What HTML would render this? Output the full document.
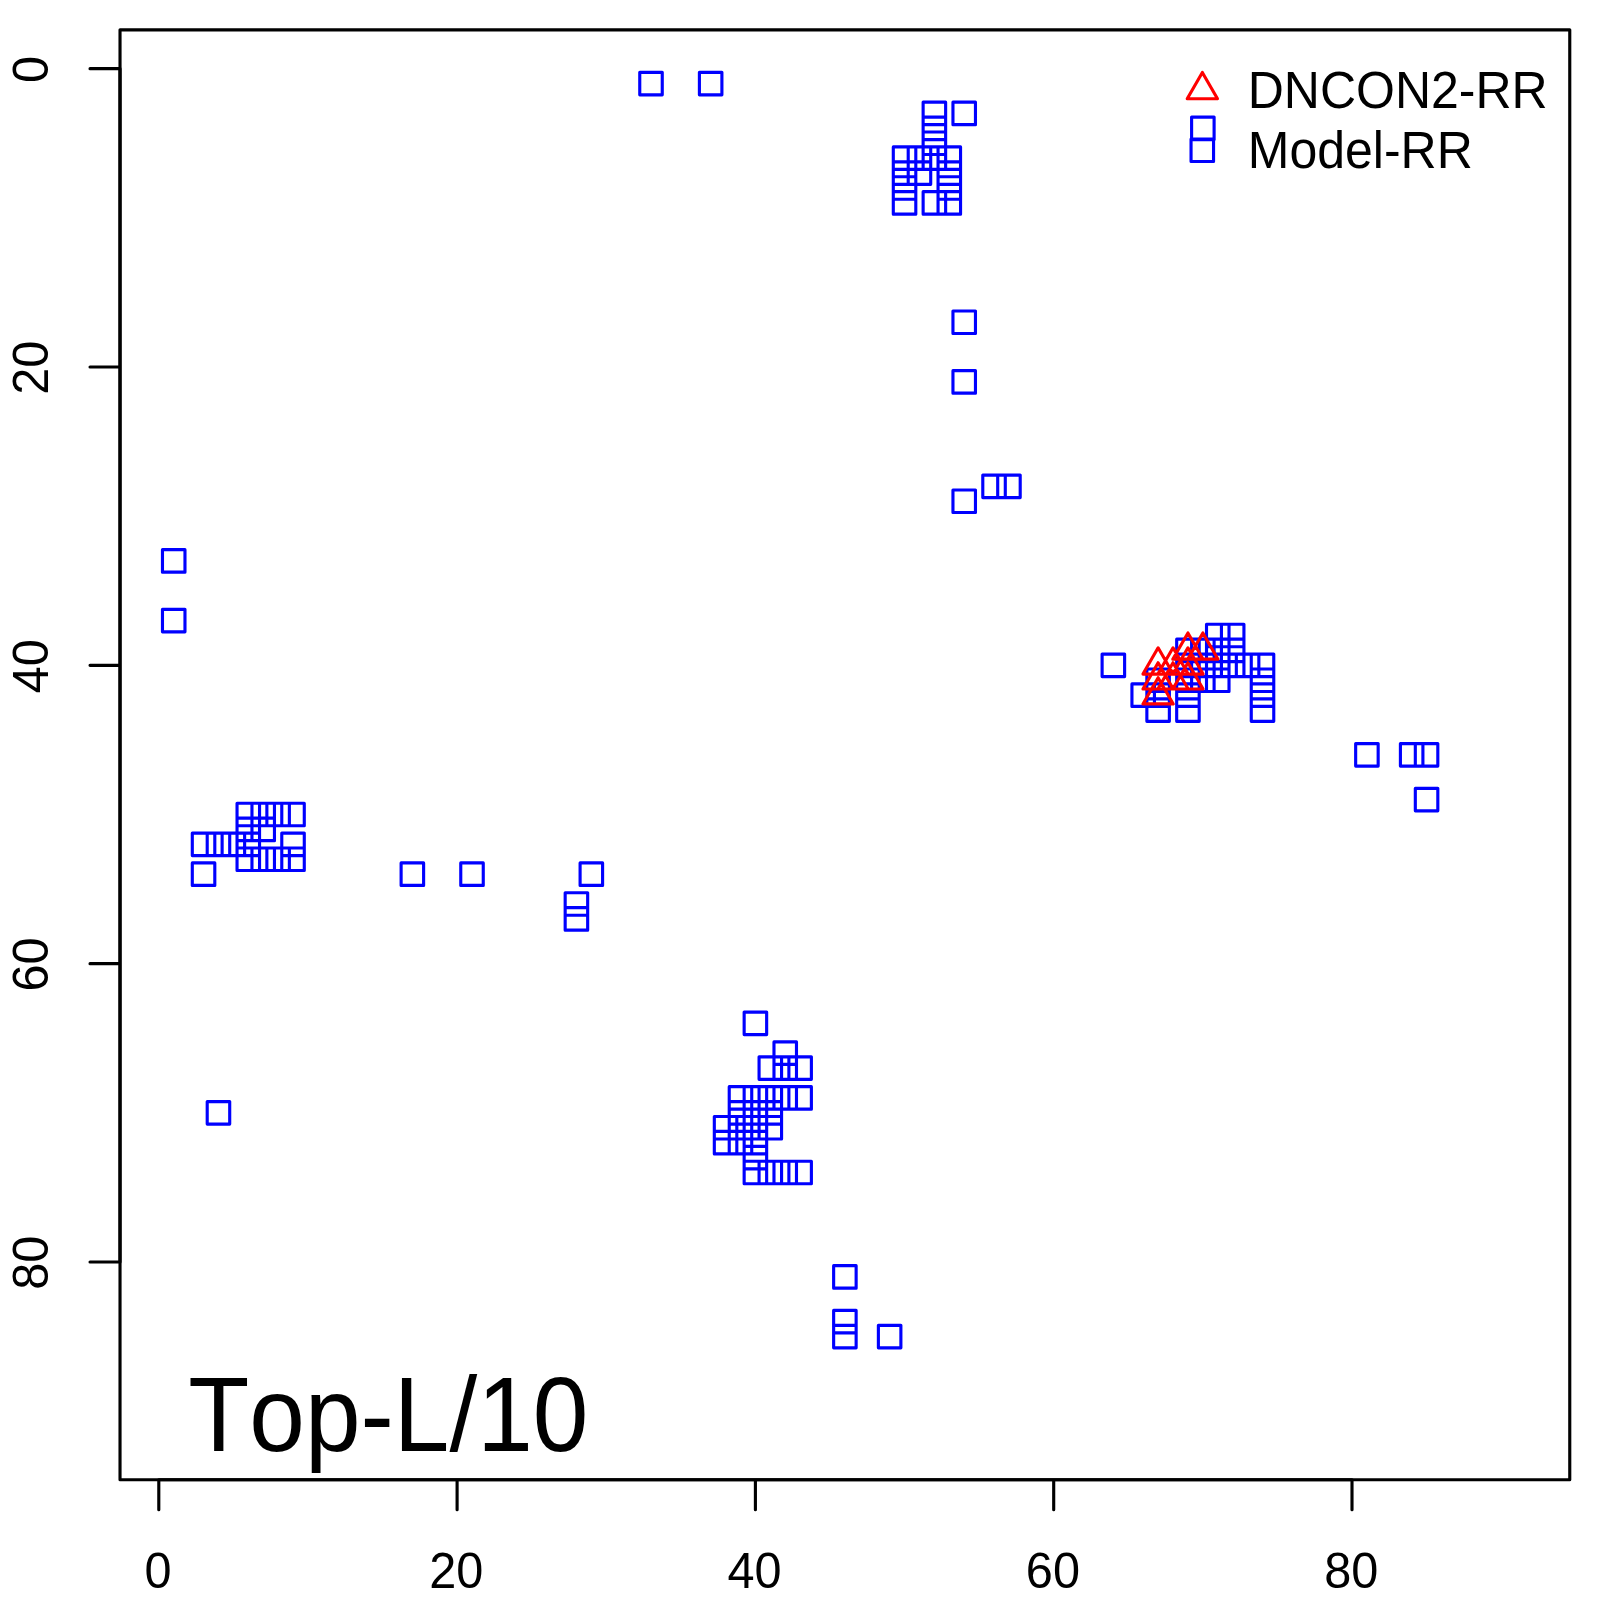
<!DOCTYPE html>
<html><head><meta charset="utf-8"><title>Top-L/10</title>
<style>
html,body{margin:0;padding:0;background:#fff;width:1600px;height:1600px;overflow:hidden}
svg{display:block}
text{font-family:'Liberation Sans',Arial,Helvetica,sans-serif;fill:#000;font-kerning:none;font-feature-settings:"kern" 0,"liga" 0}
</style></head><body>
<svg width="1600" height="1600" viewBox="0 0 1600 1600">
<rect x="0" y="0" width="1600" height="1600" fill="#fff"/>
<path d="M162.47,549.66h22.5v22.5h-22.5zM162.47,609.33h22.5v22.5h-22.5zM192.30,833.08h22.5v22.5h-22.5zM207.21,833.08h22.5v22.5h-22.5zM222.12,833.08h22.5v22.5h-22.5zM237.04,833.08h22.5v22.5h-22.5zM281.78,833.08h22.5v22.5h-22.5zM237.04,803.25h22.5v22.5h-22.5zM251.96,803.25h22.5v22.5h-22.5zM266.87,803.25h22.5v22.5h-22.5zM281.78,803.25h22.5v22.5h-22.5zM237.04,818.17h22.5v22.5h-22.5zM251.96,818.17h22.5v22.5h-22.5zM237.04,848.00h22.5v22.5h-22.5zM251.96,848.00h22.5v22.5h-22.5zM266.87,848.00h22.5v22.5h-22.5zM281.78,848.00h22.5v22.5h-22.5zM192.30,862.92h22.5v22.5h-22.5zM207.21,1101.59h22.5v22.5h-22.5zM401.11,862.92h22.5v22.5h-22.5zM460.76,862.92h22.5v22.5h-22.5zM580.09,862.92h22.5v22.5h-22.5zM565.17,892.75h22.5v22.5h-22.5zM565.17,907.67h22.5v22.5h-22.5zM744.15,1012.09h22.5v22.5h-22.5zM773.98,1041.92h22.5v22.5h-22.5zM759.07,1056.84h22.5v22.5h-22.5zM773.98,1056.84h22.5v22.5h-22.5zM788.89,1056.84h22.5v22.5h-22.5zM729.23,1086.67h22.5v22.5h-22.5zM744.15,1086.67h22.5v22.5h-22.5zM759.07,1086.67h22.5v22.5h-22.5zM773.98,1086.67h22.5v22.5h-22.5zM788.89,1086.67h22.5v22.5h-22.5zM729.23,1101.59h22.5v22.5h-22.5zM744.15,1101.59h22.5v22.5h-22.5zM759.07,1101.59h22.5v22.5h-22.5zM714.32,1116.51h22.5v22.5h-22.5zM729.23,1116.51h22.5v22.5h-22.5zM744.15,1116.51h22.5v22.5h-22.5zM759.07,1116.51h22.5v22.5h-22.5zM714.32,1131.42h22.5v22.5h-22.5zM729.23,1131.42h22.5v22.5h-22.5zM744.15,1131.42h22.5v22.5h-22.5zM744.15,1146.34h22.5v22.5h-22.5zM744.15,1161.26h22.5v22.5h-22.5zM759.07,1161.26h22.5v22.5h-22.5zM773.98,1161.26h22.5v22.5h-22.5zM788.89,1161.26h22.5v22.5h-22.5zM833.64,1265.68h22.5v22.5h-22.5zM833.64,1310.43h22.5v22.5h-22.5zM833.64,1325.35h22.5v22.5h-22.5zM878.38,1325.35h22.5v22.5h-22.5zM639.75,72.32h22.5v22.5h-22.5zM699.40,72.32h22.5v22.5h-22.5zM923.13,102.15h22.5v22.5h-22.5zM923.13,117.07h22.5v22.5h-22.5zM923.13,131.99h22.5v22.5h-22.5zM923.13,146.90h22.5v22.5h-22.5zM923.13,191.65h22.5v22.5h-22.5zM893.30,146.90h22.5v22.5h-22.5zM893.30,161.82h22.5v22.5h-22.5zM893.30,176.74h22.5v22.5h-22.5zM893.30,191.65h22.5v22.5h-22.5zM908.21,146.90h22.5v22.5h-22.5zM908.21,161.82h22.5v22.5h-22.5zM938.05,146.90h22.5v22.5h-22.5zM938.05,161.82h22.5v22.5h-22.5zM938.05,176.74h22.5v22.5h-22.5zM938.05,191.65h22.5v22.5h-22.5zM952.96,102.15h22.5v22.5h-22.5zM1191.60,117.07h22.5v22.5h-22.5zM952.96,310.99h22.5v22.5h-22.5zM952.96,370.66h22.5v22.5h-22.5zM952.96,489.99h22.5v22.5h-22.5zM982.79,475.08h22.5v22.5h-22.5zM997.70,475.08h22.5v22.5h-22.5zM1102.11,654.08h22.5v22.5h-22.5zM1131.94,683.91h22.5v22.5h-22.5zM1146.86,669.00h22.5v22.5h-22.5zM1146.86,683.91h22.5v22.5h-22.5zM1146.86,698.83h22.5v22.5h-22.5zM1176.68,639.16h22.5v22.5h-22.5zM1176.68,654.08h22.5v22.5h-22.5zM1176.68,669.00h22.5v22.5h-22.5zM1176.68,683.91h22.5v22.5h-22.5zM1176.68,698.83h22.5v22.5h-22.5zM1191.60,639.16h22.5v22.5h-22.5zM1191.60,654.08h22.5v22.5h-22.5zM1191.60,669.00h22.5v22.5h-22.5zM1206.51,624.25h22.5v22.5h-22.5zM1206.51,639.16h22.5v22.5h-22.5zM1206.51,654.08h22.5v22.5h-22.5zM1206.51,669.00h22.5v22.5h-22.5zM1221.43,624.25h22.5v22.5h-22.5zM1221.43,639.16h22.5v22.5h-22.5zM1221.43,654.08h22.5v22.5h-22.5zM1236.34,654.08h22.5v22.5h-22.5zM1251.26,654.08h22.5v22.5h-22.5zM1251.26,669.00h22.5v22.5h-22.5zM1251.26,683.91h22.5v22.5h-22.5zM1251.26,698.83h22.5v22.5h-22.5zM1355.66,743.58h22.5v22.5h-22.5zM1400.41,743.58h22.5v22.5h-22.5zM1415.32,743.58h22.5v22.5h-22.5zM1415.32,788.33h22.5v22.5h-22.5z" fill="none" stroke="#0000ff" stroke-width="3.125" stroke-linejoin="round"/>
<path d="M1187.93,632.91L1203.09,659.16L1172.78,659.16zM1202.85,632.91L1218.00,659.16L1187.70,659.16zM1158.11,647.83L1173.26,674.08L1142.95,674.08zM1173.02,647.83L1188.17,674.08L1157.87,674.08zM1187.93,647.83L1203.09,674.08L1172.78,674.08zM1158.11,662.75L1173.26,689.00L1142.95,689.00zM1173.02,662.75L1188.17,689.00L1157.87,689.00zM1187.93,662.75L1203.09,689.00L1172.78,689.00zM1158.11,677.66L1173.26,703.91L1142.95,703.91z" fill="none" stroke="#ff0000" stroke-width="3.125" stroke-linejoin="round"/>
<rect x="120.02" y="29.87" width="1449.74" height="1449.93" fill="none" stroke="#000" stroke-width="3.125" stroke-linejoin="round"/>
<path d="M158.80,1479.8V1509.8M120.02,68.65H90.02M457.10,1479.8V1509.8M120.02,366.99H90.02M755.40,1479.8V1509.8M120.02,665.33H90.02M1053.70,1479.8V1509.8M120.02,963.67H90.02M1352.00,1479.8V1509.8M120.02,1262.01H90.02M158.80,1479.8H1352.00M120.02,68.65V1262.01" fill="none" stroke="#000" stroke-width="3.125" stroke-linecap="round"/>
<g style="font-size:50px"><text x="0" y="0" text-anchor="middle" transform="translate(158.00,1588.0) scale(0.973,1.01)">0</text><text x="0" y="0" text-anchor="middle" transform="translate(456.30,1588.0) scale(0.973,1.01)">20</text><text x="0" y="0" text-anchor="middle" transform="translate(754.60,1588.0) scale(0.973,1.01)">40</text><text x="0" y="0" text-anchor="middle" transform="translate(1052.90,1588.0) scale(0.973,1.01)">60</text><text x="0" y="0" text-anchor="middle" transform="translate(1351.20,1588.0) scale(0.973,1.01)">80</text><text x="0" y="0" text-anchor="middle" transform="translate(47.9,69.45) rotate(-90) scale(0.973,1.01)">0</text><text x="0" y="0" text-anchor="middle" transform="translate(47.9,367.79) rotate(-90) scale(0.973,1.01)">20</text><text x="0" y="0" text-anchor="middle" transform="translate(47.9,666.13) rotate(-90) scale(0.973,1.01)">40</text><text x="0" y="0" text-anchor="middle" transform="translate(47.9,964.47) rotate(-90) scale(0.973,1.01)">60</text><text x="0" y="0" text-anchor="middle" transform="translate(47.9,1262.81) rotate(-90) scale(0.973,1.01)">80</text></g>
<path d="M1202.35,72.45L1217.50,98.70L1187.20,98.70z" fill="none" stroke="#ff0000" stroke-width="3.125" stroke-linejoin="round"/>
<path d="M1191.05,139.05h22.5v22.5h-22.5z" fill="none" stroke="#0000ff" stroke-width="3.125" stroke-linejoin="round"/>
<g style="font-size:50px">
<text x="0" y="0" transform="translate(1247.75,107.8) scale(1,1.04)">DNCON2-RR</text>
<text x="0" y="0" transform="translate(1247.75,168) scale(1,1.04)">Model-RR</text>
</g>
<text x="0" y="0" style="font-size:100px" transform="translate(188.25,1451) scale(1,1.061)">Top-L/10</text>
</svg>
</body></html>
